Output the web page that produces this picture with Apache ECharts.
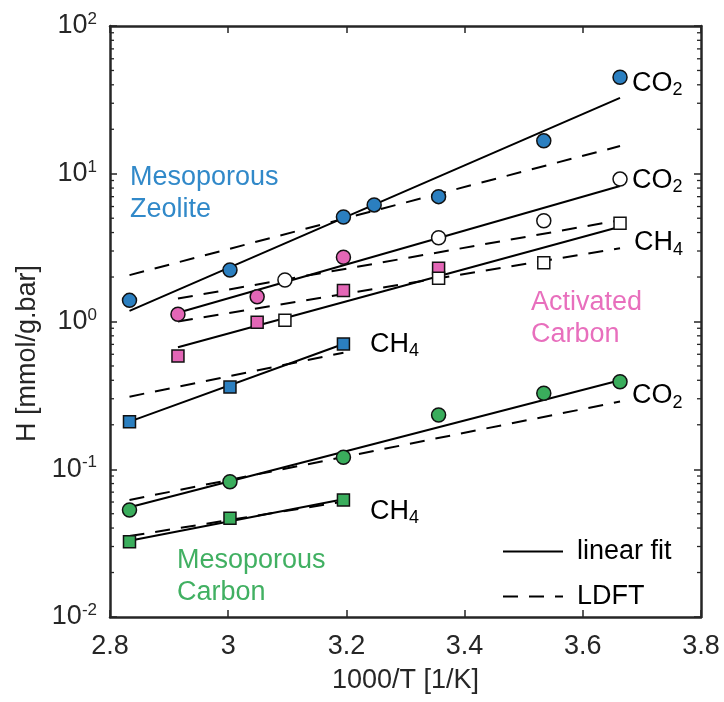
<!DOCTYPE html>
<html><head><meta charset="utf-8">
<script src="https://cdn.jsdelivr.net/npm/echarts@6/dist/echarts.min.js"></script>
<style>html,body{margin:0;padding:0;background:#fff}#c{width:724px;height:702px}</style>
</head><body><div id="c"></div>
<script>
// x = 1000/T [1/K], y = H [mmol/g.bar]
const zeoliteCO2 = [[2.833,1.39],[3.003,2.23],[3.195,5.1],[3.247,6.15],[3.356,7.0],[3.534,16.7],[3.663,45.0]];
const zeoliteCH4 = [[2.833,0.21],[3.003,0.36],[3.195,0.704]];
const activatedCO2Filled = [[2.915,1.12],[3.049,1.47],[3.195,2.72]];
const activatedCO2Open = [[3.096,1.91],[3.356,3.69],[3.534,4.81],[3.663,9.2]];
const activatedCH4Filled = [[2.915,0.584],[3.049,0.99],[3.195,1.62],[3.356,2.29]];
const activatedCH4Open = [[3.096,1.02],[3.356,1.96],[3.534,2.5],[3.663,4.62]];
const carbonCO2 = [[2.833,0.053],[3.003,0.0823],[3.195,0.1205],[3.356,0.233],[3.534,0.327],[3.663,0.391]];
const carbonCH4 = [[2.833,0.0323],[3.003,0.0466],[3.195,0.0619]];

// fit lines (end points)
const fitZeoliteCO2 = [[2.833,1.18],[3.663,32.6]];
const ldftZeoliteCO2 = [[2.833,2.06],[3.663,15.4]];
const fitZeoliteCH4 = [[2.833,0.21],[3.195,0.704]];
const ldftZeoliteCH4 = [[2.833,0.31],[3.195,0.615]];
const fitActivatedCO2 = [[2.915,1.147],[3.663,8.26]];
const ldftActivatedCO2 = [[2.915,1.43],[3.663,4.85]];
const fitActivatedCH4 = [[2.915,0.669],[3.663,4.38]];
const ldftActivatedCH4 = [[2.915,1.0],[3.663,3.13]];
const fitCarbonCO2 = [[2.833,0.0553],[3.663,0.40]];
const ldftCarbonCO2 = [[2.833,0.062],[3.663,0.287]];
const fitCarbonCH4 = [[2.833,0.0328],[3.195,0.0626]];
const ldftCarbonCH4 = [[2.833,0.0353],[3.195,0.0603]];

const xMin = 2.8, xMax = 3.8, xStep = 0.2;
const yMin = 0.01, yMax = 100;
const yMinorTicks = [0.02,0.03,0.04,0.05,0.06,0.07,0.08,0.09,
  0.2,0.3,0.4,0.5,0.6,0.7,0.8,0.9,
  2,3,4,5,6,7,8,9,
  20,30,40,50,60,70,80,90];
const legendNames = ['linear fit','LDFT'];

const FONT = 'Liberation Sans, Arial, Helvetica, sans-serif';
const FS = 27;
const AXIS = '#262626';
const BLUE = '#2b7fc0', PINK = '#e366b6', GREEN = '#3aad5c';
const TBLUE = '#3189c9', TPINK = '#e86fbd', TGREEN = '#41b062';
const DASH = [15, 11];

function fitLine(data, dashed) {
  return {
    type: 'line', name: dashed ? legendNames[1] : legendNames[0], data: data,
    symbol: 'none', showSymbol: false, z: 2, silent: true,
    lineStyle: { color: '#000', width: 2, type: dashed ? DASH : 'solid' },
    itemStyle: { color: '#000' }
  };
}
function markers(data, shape, fill, z) {
  return {
    type: 'scatter', data: data, symbol: shape, symbolSize: shape === 'circle' ? 14 : 12,
    z: z, silent: true,
    itemStyle: { color: fill, borderColor: '#111', borderWidth: 1.5, opacity: 1 }
  };
}

const chart = echarts.init(document.getElementById('c'), null, { renderer: 'canvas' });

const axisLineStyle = { color: AXIS, width: 2.5 };
const tickStyle = { color: AXIS, width: 1.5 };

function sub(main, s) { return '{a|' + main + '}{s|' + s + '}'; }
const subRich = {
  a: { fontFamily: FONT, fontSize: FS, lineHeight: 32, color: '#000' },
  s: { fontFamily: FONT, fontSize: 18, lineHeight: 20, verticalAlign: 'bottom', color: '#000' }
};
function label(x, y, text, color, rich) {
  const st = { text: text, x: 0, y: 0, fill: color, fontFamily: FONT, fontSize: FS,
    align: 'left', verticalAlign: 'middle', lineHeight: 32 };
  if (rich) st.rich = subRich;
  return { type: 'text', x: x, y: y, silent: true, style: st, z: 10 };
}

const option = {
  backgroundColor: '#fff',
  animation: false,
  grid: { left: 110, right: 23, top: 26, bottom: 85, containLabel: false },
  xAxis: [
    { type: 'value', min: xMin, max: xMax, interval: xStep, position: 'bottom',
      axisLine: { show: true, onZero: false, lineStyle: axisLineStyle },
      axisTick: { show: true, inside: true, length: 7, lineStyle: tickStyle },
      axisLabel: { fontFamily: FONT, fontSize: FS, color: AXIS, margin: 16 },
      splitLine: { show: false },
      name: '1000/T [1/K]', nameLocation: 'middle', nameGap: 50,
      nameTextStyle: { fontFamily: FONT, fontSize: FS, color: AXIS } },
    { type: 'value', min: xMin, max: xMax, interval: xStep, position: 'top',
      axisLine: { show: true, onZero: false, lineStyle: axisLineStyle },
      axisTick: { show: true, inside: true, length: 7, lineStyle: tickStyle },
      axisLabel: { show: false }, splitLine: { show: false } }
  ],
  yAxis: [
    { type: 'log', logBase: 10, min: yMin, max: yMax, splitNumber: 4, position: 'left',
      axisLine: { show: true, onZero: false, lineStyle: axisLineStyle },
      axisTick: { show: true, inside: true, length: 7, lineStyle: tickStyle },
      axisLabel: { margin: 13, color: AXIS,
        formatter: function (v) { return '{b|10}{e|' + Math.round(Math.log10(v)) + '}'; },
        rich: {
          b: { fontFamily: FONT, fontSize: FS, lineHeight: 30, color: AXIS },
          e: { fontFamily: FONT, fontSize: 17, lineHeight: 17, verticalAlign: 'top', color: AXIS }
        } },
      splitLine: { show: false },
      name: 'H [mmol/g.bar]', nameLocation: 'middle', nameGap: 56,
      nameTextStyle: { fontFamily: FONT, fontSize: FS, color: AXIS, padding: [0, 64, 0, 0] } },
    { type: 'log', logBase: 10, min: yMin, max: yMax, splitNumber: 4, position: 'right',
      axisLine: { show: true, onZero: false, lineStyle: axisLineStyle },
      axisTick: { show: true, inside: true, length: 7, lineStyle: tickStyle },
      axisLabel: { show: false }, splitLine: { show: false } }
  ],
  legend: {
    data: legendNames, orient: 'vertical', left: 497, top: 533,
    itemWidth: 60, itemHeight: 14, itemGap: 18, selectedMode: false,
    itemStyle: { opacity: 0 },
    textStyle: { fontFamily: FONT, fontSize: FS, color: '#000', padding: [0, 0, 0, 9] }
  },
  series: [
    { type: 'custom', silent: true, z: 5, clip: false,
      data: yMinorTicks.map(function (v) { return [xMin, v]; }),
      renderItem: function (params, api) {
        const v = api.value(1);
        const l = api.coord([xMin, v]);
        const r = api.coord([xMax, v]);
        return { type: 'group', children: [
          { type: 'line', shape: { x1: l[0], y1: l[1], x2: l[0] + 4, y2: l[1] }, style: { stroke: AXIS, lineWidth: 1.3 } },
          { type: 'line', shape: { x1: r[0] - 4, y1: r[1], x2: r[0], y2: r[1] }, style: { stroke: AXIS, lineWidth: 1.3 } }
        ] };
      } },
    fitLine(fitZeoliteCO2, false), fitLine(ldftZeoliteCO2, true),
    fitLine(fitZeoliteCH4, false), fitLine(ldftZeoliteCH4, true),
    fitLine(fitActivatedCO2, false), fitLine(ldftActivatedCO2, true),
    fitLine(fitActivatedCH4, false), fitLine(ldftActivatedCH4, true),
    fitLine(fitCarbonCO2, false), fitLine(ldftCarbonCO2, true),
    fitLine(fitCarbonCH4, false), fitLine(ldftCarbonCH4, true),
    markers(zeoliteCO2, 'circle', BLUE, 3),
    markers(zeoliteCH4, 'rect', BLUE, 3),
    markers(activatedCO2Filled, 'circle', PINK, 3),
    markers(activatedCH4Filled, 'rect', PINK, 3),
    markers(carbonCO2, 'circle', GREEN, 3),
    markers(carbonCH4, 'rect', GREEN, 3),
    markers(activatedCO2Open, 'circle', '#fff', 4),
    markers(activatedCH4Open, 'rect', '#fff', 4)
  ],
  graphic: [
    label(632, 83.5, sub('CO', '2'), '#000', true),
    label(632, 180.5, sub('CO', '2'), '#000', true),
    label(634, 243, sub('CH', '4'), '#000', true),
    label(370, 344.5, sub('CH', '4'), '#000', true),
    label(632, 396, sub('CO', '2'), '#000', true),
    label(370, 511.5, sub('CH', '4'), '#000', true),
    label(130, 194, 'Mesoporous\nZeolite', TBLUE, false),
    label(531, 319, 'Activated\nCarbon', TPINK, false),
    label(177, 577, 'Mesoporous\nCarbon', TGREEN, false)
  ]
};
chart.setOption(option);
</script>
</body></html>
